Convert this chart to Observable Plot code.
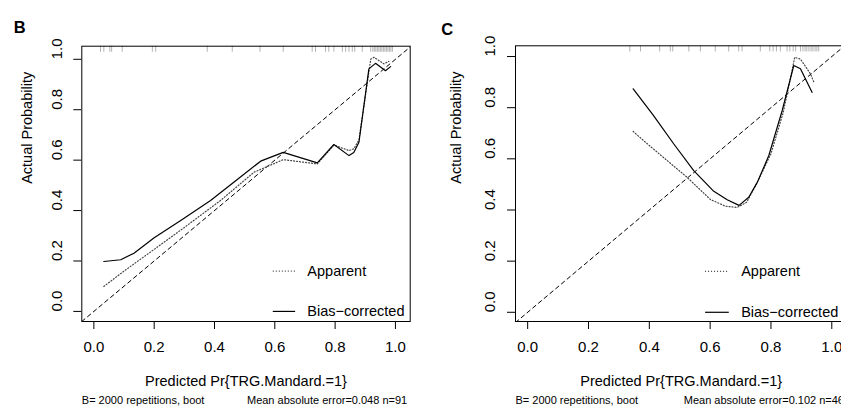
<!DOCTYPE html>
<html>
<head>
<meta charset="utf-8">
<script src="https://cdn.jsdelivr.net/npm/d3@7"></script>
<script src="https://cdn.jsdelivr.net/npm/@observablehq/plot@0.6"></script>
<style>
  body { margin: 0; background: #fff; }
  #wrap { position: relative; width: 841px; height: 406px; overflow: hidden; background: #fff; }
  #pb, #pc { position: absolute; top: 0; }
  #pb { left: 0; width: 420px; }
  #pc { left: 420px; width: 440px; }
  #wrap svg { max-width: none !important; display: block; }
</style>
</head>
<body>
<div id="wrap"><div id="pb"></div><div id="pc"></div></div>
<script>
// ---- data ----
const xTicks = [0, 0.2, 0.4, 0.6, 0.8, 1.0];
const yTicks = [0, 0.2, 0.4, 0.6, 0.8, 1.0];
const legendLabels = ["Apparent", "Bias\u2212corrected"];
const xTitle = "Predicted Pr{TRG.Mandard.=1}";
const yTitle = "Actual Probability";
const panelLetters = ["B", "C"];
const bootNotes = ["B= 2000 repetitions, boot", "B= 2000 repetitions, boot"];
const errorNotes = ["Mean absolute error=0.048 n=91", "Mean absolute error=0.102 n=46"];

// Panel B
const bBiasX = [0.033, 0.089, 0.133, 0.2, 0.288, 0.387, 0.464, 0.553, 0.628, 0.741, 0.796, 0.846, 0.862, 0.879, 0.912, 0.934, 0.967, 0.984];
const bBiasY = [0.198, 0.205, 0.231, 0.292, 0.361, 0.44, 0.512, 0.596, 0.631, 0.589, 0.662, 0.618, 0.63, 0.671, 0.962, 0.984, 0.955, 0.971];
const bAppX = [0.033, 0.1, 0.2, 0.3, 0.42, 0.531, 0.628, 0.741, 0.796, 0.846, 0.862, 0.879, 0.918, 0.929, 0.962, 0.978];
const bAppY = [0.099, 0.16, 0.246, 0.333, 0.44, 0.552, 0.602, 0.585, 0.66, 0.638, 0.645, 0.68, 1.0, 1.008, 0.982, 0.992];
const bRug = [0.022, 0.033, 0.053, 0.059, 0.094, 0.194, 0.205, 0.376, 0.459, 0.551, 0.628, 0.724, 0.735, 0.768, 0.779, 0.796, 0.824, 0.835, 0.846, 0.857, 0.865, 0.89,
  0.918, 0.925, 0.93, 0.935, 0.94, 0.945, 0.95, 0.955, 0.96, 0.965, 0.97, 0.975, 0.98, 0.985, 0.99];

// Panel C
const cBiasX = [0.347, 0.414, 0.48, 0.546, 0.612, 0.656, 0.695, 0.727, 0.755, 0.793, 0.837, 0.875, 0.897, 0.935];
const cBiasY = [0.874, 0.769, 0.659, 0.554, 0.473, 0.44, 0.418, 0.45, 0.508, 0.613, 0.789, 0.965, 0.952, 0.86];
const cAppX = [0.347, 0.4, 0.46, 0.524, 0.601, 0.65, 0.689, 0.72, 0.76, 0.8, 0.84, 0.865, 0.878, 0.897, 0.93, 0.941];
const cAppY = [0.707, 0.652, 0.592, 0.528, 0.441, 0.415, 0.41, 0.43, 0.52, 0.62, 0.78, 0.92, 0.997, 0.99, 0.932, 0.9];
const cRug = [0.336, 0.371, 0.434, 0.469, 0.477, 0.53, 0.568, 0.617, 0.661, 0.694, 0.705, 0.765, 0.796, 0.807, 0.818, 0.831, 0.853, 0.862, 0.873, 0.881,
  0.897, 0.905, 0.912, 0.918, 0.925, 0.932, 0.938, 0.945, 0.951, 0.957];

// ---- drawing ----
const fmt = d3.format(".1f");
const pts = (xs, ys) => xs.map((x, i) => ({x, y: ys[i]}));

function panel(cfg) {
  const diag = cfg.xDomain.map(v => ({x: v, y: v}));
  const legendRows = legendLabels.map((label, i) => ({label, y: cfg.legendY[i], x1: cfg.legendX[0], x2: cfg.legendX[1]}));
  return Plot.plot({
    width: cfg.width,
    height: 406,
    marginLeft: cfg.ml, marginRight: cfg.mr, marginTop: cfg.mt, marginBottom: cfg.mb,
    x: {domain: cfg.xDomain},
    y: {domain: cfg.yDomain},
    style: {fontFamily: "'Liberation Sans', Arial, sans-serif", fontSize: "14.5px", background: "transparent", color: "black", overflow: "visible"},
    marks: [
      Plot.ruleX(cfg.rug, {x: d => d, y1: cfg.yDomain[1], y2: cfg.yDomain[1] - 0.024, stroke: "#888", strokeWidth: 0.8, strokeOpacity: 0.8}),
      Plot.line(diag, {x: "x", y: "y", stroke: "black", strokeWidth: 1, strokeDasharray: "4,3.5", clip: true}),
      Plot.line(pts(cfg.appX, cfg.appY), {x: "x", y: "y", stroke: "#444", strokeWidth: 1.2, strokeDasharray: "1,2"}),
      Plot.line(pts(cfg.biasX, cfg.biasY), {x: "x", y: "y", stroke: "black", strokeWidth: 1.2}),
      Plot.frame({stroke: "black", strokeWidth: 1}),
      Plot.axisX({ticks: xTicks, tickSize: 8, tickPadding: 12, tickFormat: fmt, label: null, fontSize: 15}),
      Plot.axisY({ticks: yTicks, tickSize: 8, tickFormat: () => "", label: null}),
      Plot.text(yTicks, {y: d => d, text: d => fmt(d), frameAnchor: "left", dx: -25, rotate: -90, fontSize: 15}),
      // legend
      Plot.ruleY([legendRows[0]], {y: "y", x1: "x1", x2: "x2", stroke: "#444", strokeWidth: 1.2, strokeDasharray: "1,2"}),
      Plot.ruleY([legendRows[1]], {y: "y", x1: "x1", x2: "x2", stroke: "black", strokeWidth: 1.2}),
      Plot.text(legendRows, {x: cfg.legendTextX, y: "y", text: "label", textAnchor: "start", fontSize: 14.5}),
      // titles
      Plot.text([xTitle], {text: d => d, frameAnchor: "bottom", dy: 64, fontSize: 14.5}),
      Plot.text([yTitle], {text: d => d, frameAnchor: "left", dx: cfg.yTitleDx, rotate: -90, fontSize: 14.5}),
      Plot.text([cfg.letter], {text: d => d, frameAnchor: "top-left", dx: cfg.letterDx, dy: cfg.letterDy, textAnchor: "start", fontWeight: "bold", fontSize: 16.5}),
      Plot.text([cfg.boot], {text: d => d, frameAnchor: "bottom-left", dy: 82, textAnchor: "start", fontSize: 11}),
      Plot.text([cfg.err], {text: d => d, frameAnchor: "bottom-right", dx: -3, dy: 82, textAnchor: "end", fontSize: 11})
    ]
  });
}

document.getElementById("pb").append(panel({
  width: 420, ml: 81.3, mr: 10.3, mt: 45.7, mb: 85,
  xDomain: [-0.04, 1.049], yDomain: [-0.04, 1.052],
  biasX: bBiasX, biasY: bBiasY, appX: bAppX, appY: bAppY, rug: bRug,
  legendY: [0.16, 0.0], legendX: [0.595, 0.669], legendTextX: 0.708,
  yTitleDx: -54.6, letterDx: -68, letterDy: -25,
  letter: panelLetters[0], boot: bootNotes[0], err: errorNotes[0]
}));

document.getElementById("pc").append(panel({
  width: 440, ml: 95, mr: 13.5, mt: 45.3, mb: 85,
  xDomain: [-0.04, 1.05], yDomain: [-0.036, 1.042],
  biasX: cBiasX, biasY: cBiasY, appX: cAppX, appY: cAppY, rug: cRug,
  legendY: [0.16, 0.0], legendX: [0.585, 0.663], legendTextX: 0.702,
  yTitleDx: -59, letterDx: -74.3, letterDy: -22.8,
  letter: panelLetters[1], boot: bootNotes[1], err: errorNotes[1]
}));
</script>
</body>
</html>
